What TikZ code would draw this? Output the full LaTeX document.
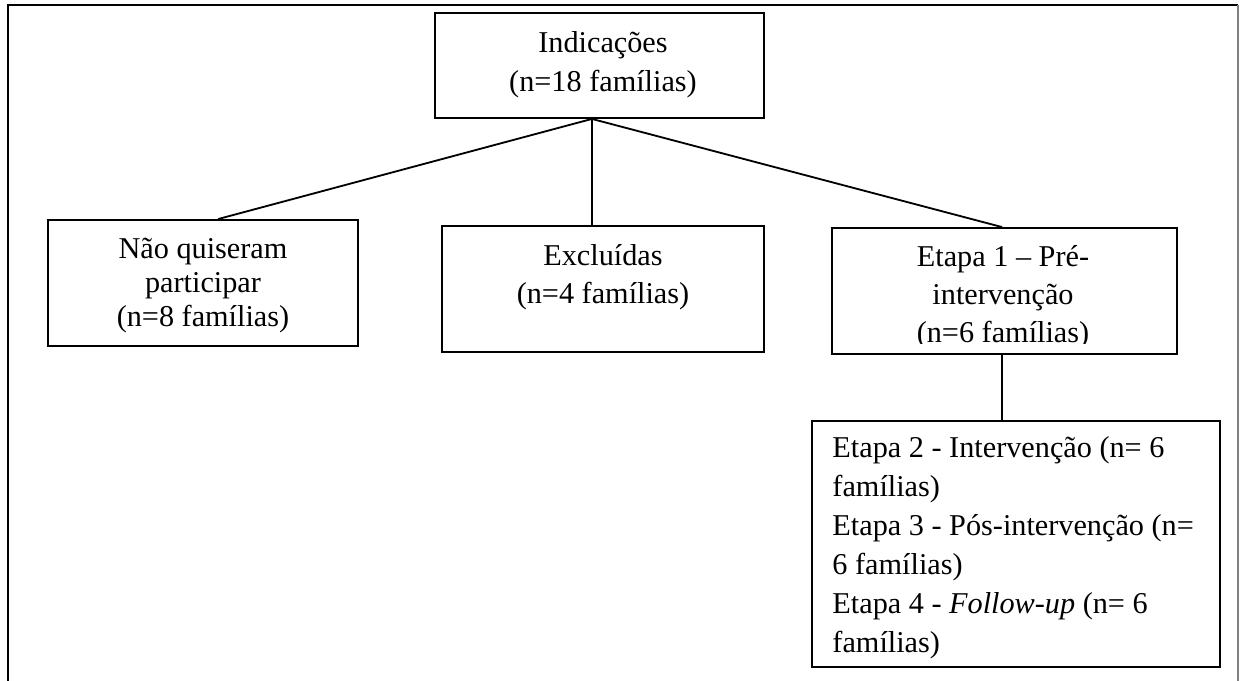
\documentclass[tikz,border=0pt]{standalone}
\usepackage{fontspec}
\setmainfont{Liberation Serif}
\begin{document}
\begin{tikzpicture}[x=0.41pt,y=-0.41pt,
  box/.style={draw, line width=0.75pt, inner sep=0pt},
  conn/.style={line width=0.75pt},
  txt/.style={inner sep=0pt, align=center},
  fsA/.style={font=\fontsize{12.4}{16}\selectfont},
  fsB/.style={font=\fontsize{12.4}{14}\selectfont},
  fsC/.style={font=\fontsize{12.4}{15.6}\selectfont}]
\useasboundingbox (0,0) rectangle (1240,681);
% outer frame (open at the bottom)
\draw[line width=0.8pt] (8,681) -- (8,5) -- (1238,5);
\draw[gray, line width=0.6pt] (1238,5) -- (1238,681);
% boxes
\node[box, minimum width=329*0.41pt, minimum height=105*0.41pt] (ind) at (599.5,65.5) {};
\node[box, minimum width=310*0.41pt, minimum height=126*0.41pt] (nao) at (203,283) {};
\node[box, minimum width=322*0.41pt, minimum height=126*0.41pt] (exc) at (603,289) {};
\node[box, minimum width=345*0.41pt, minimum height=126*0.41pt] (et1) at (1004.5,291) {};
\node[box, minimum width=408*0.41pt, minimum height=246*0.41pt] (et2) at (1016,544) {};
% texts
\node[txt, fsA] (indt) at (603,64.5) {Indicações\\(n=18 famílias)};
\node[txt, fsB] (naot) at (203,285.5) {Não quiseram\\participar\\(n=8 famílias)};
\node[txt, fsC] (exct) at (603,277) {Excluídas\\(n=4 famílias)};
\begin{scope}
  \clip (832,228) rectangle (1177,343);
  \node[txt, fsC] (et1t) at (1003,297.5) {Etapa 1 – Pré-\\intervenção\\(n=6 famílias)};
\end{scope}
\node[txt, fsA, align=left, anchor=west] (et2t) at (832,547.5)
  {Etapa 2 - Intervenção (n= 6\\famílias)\\Etapa 3 - Pós-intervenção (n=\\6 famílias)\\Etapa 4 - \textit{Follow-up} (n= 6\\famílias)};
% connectors
\coordinate (hub) at ([xshift=-3.1pt]ind.south);
\draw[conn] (hub) -- ([xshift=6.15pt]nao.north);
\draw[conn] (hub) -- (hub |- exc.north);
\draw[conn] (hub) -- ([xshift=-1pt]et1.north);
\draw[conn] ([xshift=-1pt]et1.south) -- ([xshift=-1pt]et1.south |- et2.north);
\end{tikzpicture}
\end{document}
